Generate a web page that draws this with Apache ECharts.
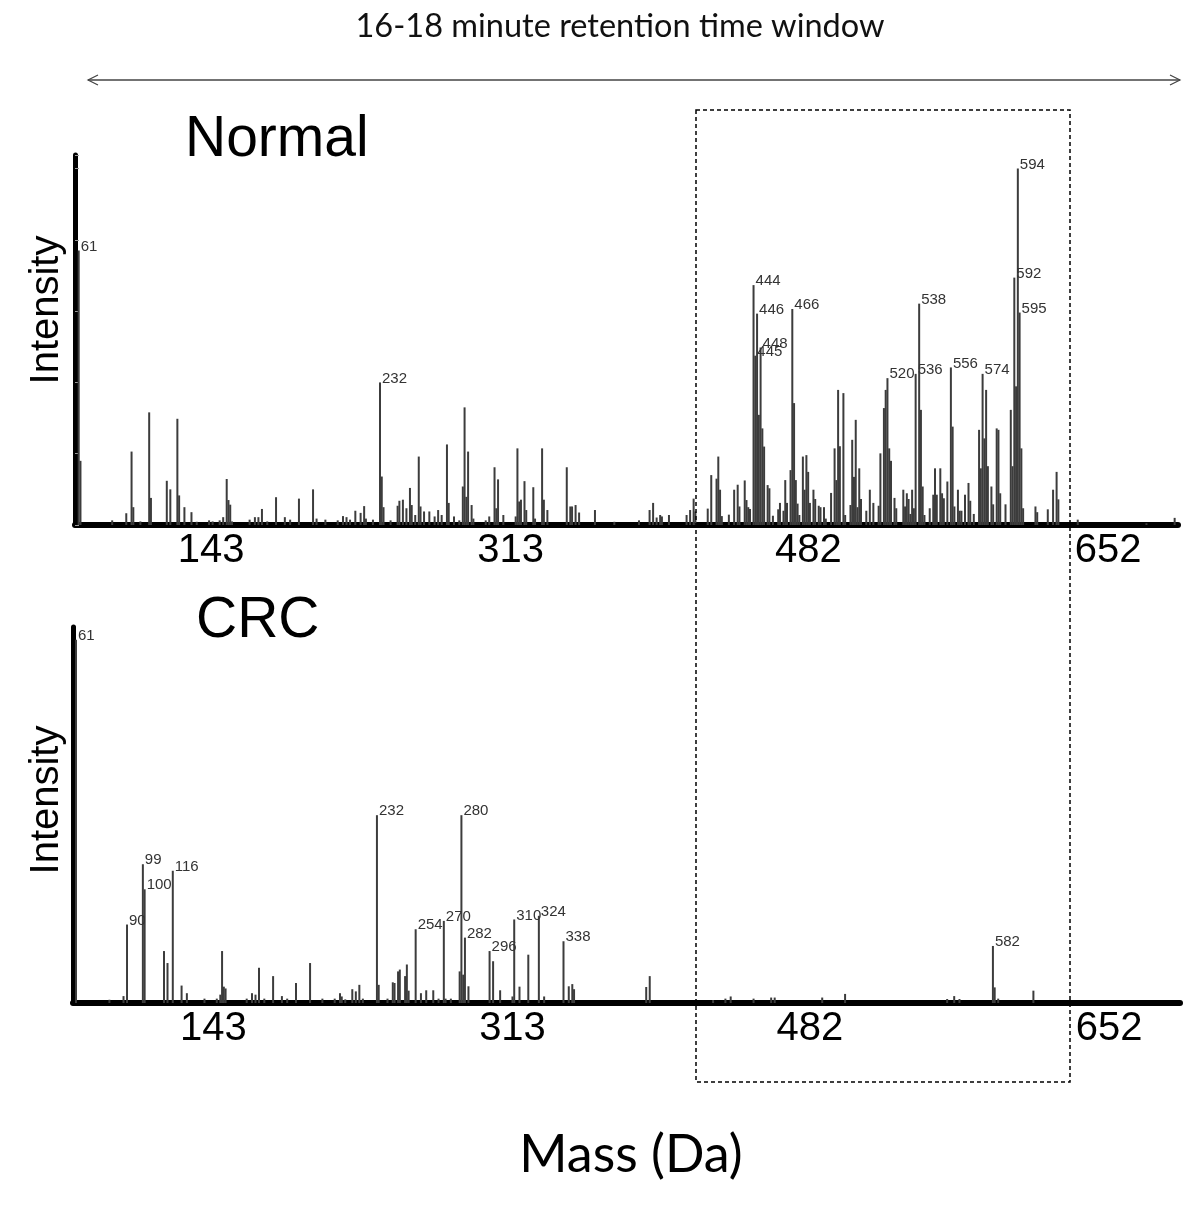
<!DOCTYPE html>
<html>
<head>
<meta charset="utf-8">
<script src="https://cdn.jsdelivr.net/npm/echarts@6/dist/echarts.min.js"></script>
<style>
html,body{margin:0;padding:0;background:#fff;}
#chart{width:1200px;height:1222px;}
</style>
</head>
<body>
<div id="chart"></div>
<script>
// ---------- DATA ----------
const tickValues = [143, 313, 482, 652];

const normalMass = [61,62,80,88,91,92,96,101,102,111,113,117,118,121,125,128,135,137,141,143,145,146,147,148,158,161,163,165,168,173,178,181,186,194,196,201,208,211,213,215,218,221,223,224,228,
232,233,234,238,242,243,245,247,249,250,252,254,255,257,260,263,265,267,270,271,274,277,279,280,281,282,284,285,292,294,297,298,299,302,309,310,311,312,314,315,319,320,324,325,327,
338,340,341,343,345,354,365,379,385,387,389,391,392,396,406,408,410,411,418,420,423,424,425,426,430,433,435,436,439,440,441,442,444,445,446,447,448,449,450,452,453,455,458,459,461,462,463,465,466,467,468,469,470,
472,473,474,475,476,478,479,481,482,484,485,488,490,491,492,493,495,496,499,500,501,502,503,504,505,508,510,512,515,516,518,519,520,521,522,524,525,529,530,531,532,533,534,535,536,538,539,540,541,
544,546,547,548,550,551,552,554,556,557,558,560,561,562,564,566,567,569,572,573,574,575,576,577,579,580,582,583,584,587,590,591,592,593,594,595,596,597,604,605,611,614,616,617,628,667,683];
const normalInt = [77,18,1.3,3.3,20.6,5,1,31.6,7.6,12.4,10,29.8,8.3,5,3.6,0.9,1.3,1,1.3,2.2,12.9,7,5.7,1,1.5,2.2,2.2,4.5,1,7.8,2.2,1.5,7.4,10,1.8,1.5,1.3,2.5,2.2,1.5,4,3.4,5.3,1.8,1.5,
40,13.6,5,1.3,5.4,6.8,7.1,4.7,10.4,5.6,2.8,19.2,5.2,3.8,3.8,2.4,4.2,2.8,22.6,6.2,2.4,1.3,10.8,33,7.9,20.6,5.6,1.8,1.3,2.4,16.2,4.7,12.8,2.8,2.4,21.5,6.6,7.1,12.3,4.2,10.6,1.8,21.5,7.1,4.2,
16.2,5.2,5.2,5.6,3.5,4.2,0.9,1.3,4.2,6.2,2.1,2.8,2.4,2.8,2.8,4.2,7.4,3.8,4.6,14,13,19.2,9.9,2.5,2.9,9.9,11.3,5.2,12.5,7,5,4.5,67.3,47.5,59.3,30.9,49.8,27.1,22,11.2,10.3,2.6,4.4,6.2,4,12.6,6.2,15.4,60.6,34.2,12.6,6,2.8,
19.2,9.9,19.6,14.9,6.2,9.9,7.3,5.4,5,5,1.8,9,21.5,12.6,37.9,22.1,37,2.8,5.6,23.9,13.5,29.5,5,15.9,7.3,4,9.9,6.2,5.4,20.1,32.8,37.9,41.2,21.5,18,7.6,4.7,9.9,5.2,8.9,7.3,3.1,9.9,4.7,42.4,62.1,32.3,10.8,2.8,
4.7,8.5,15.9,8.5,15.9,8.9,7.5,12.2,44.2,27.6,5.2,9.9,4,4,8.5,11.8,6.8,3.1,26.7,15.9,42.4,24.3,37.9,16.5,10.8,5.8,27.1,26.7,8.9,5.8,32.3,16.5,69.4,38.9,100,59.6,21.5,4.7,5.2,3.6,4.4,9.9,14.9,7.2,1.5,0.5,2];
const normalLabeled = [61,232,444,445,446,448,466,520,536,538,556,574,592,594,595];

const crcMass = [61,80,88,90,99,100,111,113,116,121,124,134,141,143,144,145,146,158,161,163,165,168,173,178,181,186,194,201,208,211,212,214,218,220,222,224,
232,233,238,241,242,244,245,248,249,250,254,257,260,264,267,270,271,274,279,280,281,282,284,296,298,302,309,310,313,318,324,327,338,341,343,344,
385,387,423,430,433,446,456,458,485,498,556,560,563,582,583,585,605];
const crcInt = [100,0.9,1.9,21.6,38.2,31.3,14.3,11,36.4,4.8,2.7,1.2,1.2,2.3,14.3,4.5,4,1.2,2.7,2.3,9.7,1.2,7.4,1.9,1.2,5.5,11,1.2,1.2,2.7,1.8,1,3.8,3.2,5,1.2,
51.7,5,1.2,5.7,5.5,8.7,9.2,7.4,10.6,3.4,20.3,2.7,3.5,3.5,1.2,22.6,1.2,1.2,8.7,51.7,7.8,18,4.6,14.3,11.5,3.5,1.8,23,4.5,13.3,24,1.8,17,4.6,5.2,3.8,
4.4,7.4,0.8,1.2,1.8,1.2,1.5,1.5,1.5,2.5,1.1,1.9,1.1,15.7,4.3,1.2,3.4];
const crcLabeled = [61,90,99,100,116,232,254,270,280,282,296,310,324,338,582];

// ---------- BUILD ----------
function build(mass, inten, labeled) {
  return mass.map((m, i) => {
    const d = { value: [m, inten[i]] };
    if (labeled.indexOf(m) >= 0) d.label = { show: true, formatter: String(m) };
    return d;
  });
}

const chart = echarts.init(document.getElementById('chart'), null, { renderer: 'canvas' });
const peakLabel = {
  show: false, position: [3, -4], align: 'left', verticalAlign: 'middle',
  fontFamily: 'Liberation Sans', fontSize: 15, color: '#333'
};
function xLabel(shift) {
  return {
    customValues: tickValues, fontFamily: 'Liberation Sans', fontSize: 40, color: '#000',
    margin: 6, padding: [0, shift, 0, 0]
  };
}

chart.setOption({
  animation: false,
  backgroundColor: '#fff',
  grid: [
    { left: 75, width: 1103, top: 155, height: 370 },
    { left: 73, width: 1107, top: 627, height: 376 }
  ],
  xAxis: [
    { type: 'value', gridIndex: 0, min: 58.9, max: 684.9, splitLine: { show: false },
      axisLine: { lineStyle: { color: '#000', width: 6 } }, axisTick: { show: false }, axisLabel: xLabel(24) },
    { type: 'value', gridIndex: 1, min: 59.3, max: 688.3, splitLine: { show: false },
      axisLine: { lineStyle: { color: '#000', width: 6 } }, axisTick: { show: false }, axisLabel: xLabel(14) }
  ],
  yAxis: [
    { type: 'value', gridIndex: 0, min: 0, max: 103.8, interval: 20, splitLine: { show: false },
      axisLine: { show: true, lineStyle: { color: '#000', width: 5 } },
      axisTick: { show: true, inside: true, length: 4, lineStyle: { color: '#999', width: 1 } },
      axisLabel: { show: false } },
    { type: 'value', gridIndex: 1, min: 0, max: 103.5, splitLine: { show: false },
      axisLine: { show: true, lineStyle: { color: '#000', width: 5 } },
      axisTick: { show: false }, axisLabel: { show: false } }
  ],
  series: [
    { name: 'Normal', type: 'bar', xAxisIndex: 0, yAxisIndex: 0, barWidth: 2,
      itemStyle: { color: '#3c3c3c' }, label: peakLabel,
      data: build(normalMass, normalInt, normalLabeled) },
    { name: 'CRC', type: 'bar', xAxisIndex: 1, yAxisIndex: 1, barWidth: 2,
      itemStyle: { color: '#3c3c3c' }, label: peakLabel,
      data: build(crcMass, crcInt, crcLabeled) }
  ],
  graphic: [
    { type: 'text', style: { text: '16-18 minute retention time window', x: 620, y: 27,
      align: 'center', verticalAlign: 'middle', font: '32.5px Lato', fill: '#111' } },
    { type: 'line', shape: { x1: 88, y1: 80, x2: 1180, y2: 80 }, style: { stroke: '#444', lineWidth: 1.5 } },
    { type: 'polyline', shape: { points: [[98, 75], [88, 80], [98, 85]] }, style: { stroke: '#444', lineWidth: 1.2, fill: null } },
    { type: 'polyline', shape: { points: [[1170, 75], [1180, 80], [1170, 85]] }, style: { stroke: '#444', lineWidth: 1.2, fill: null } },
    { type: 'text', style: { text: 'Normal', x: 185, y: 140, align: 'left', verticalAlign: 'middle',
      font: '57px "Liberation Sans"', fill: '#000' } },
    { type: 'text', style: { text: 'CRC', x: 196, y: 621, align: 'left', verticalAlign: 'middle',
      font: '57px "Liberation Sans"', fill: '#000' } },
    { type: 'text', x: 47, y: 310, rotation: Math.PI / 2, style: { text: 'Intensity', x: 0, y: 0,
      align: 'center', verticalAlign: 'middle', font: '40px "Liberation Sans"', fill: '#000' } },
    { type: 'text', x: 47, y: 800, rotation: Math.PI / 2, style: { text: 'Intensity', x: 0, y: 0,
      align: 'center', verticalAlign: 'middle', font: '40px "Liberation Sans"', fill: '#000' } },
    { type: 'text', style: { text: 'Mass (Da)', x: 631, y: 1155, align: 'center', verticalAlign: 'middle',
      font: '52px Lato', fill: '#000' } },
    { type: 'rect', z: 100, shape: { x: 696, y: 110, width: 374, height: 972 },
      style: { fill: null, stroke: '#000', lineWidth: 1.5, lineDash: [4, 3] } }
  ]
});
</script>
</body>
</html>
